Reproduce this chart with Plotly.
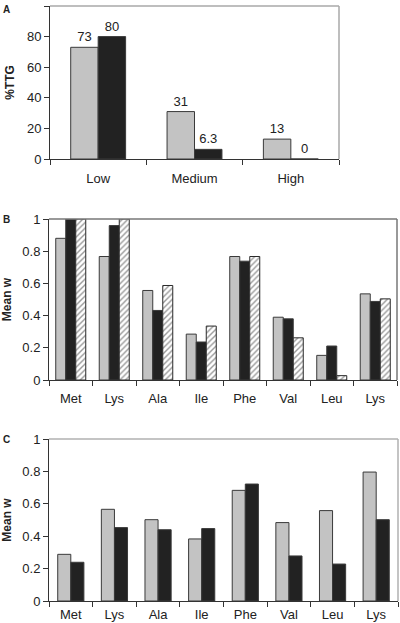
import plotly.graph_objects as go

# ---------------- data ----------------
a_categories = ["Low", "Medium", "High"]
a_gray = [73, 31, 13]
a_black = [80, 6.3, 0]
a_gray_text = ["73", "31", "13"]
a_black_text = ["80", "6.3", "0"]

aa_ids = ["Met", "Lys1", "Ala", "Ile", "Phe", "Val", "Leu", "Lys2"]
aa_labels = ["Met", "Lys", "Ala", "Ile", "Phe", "Val", "Leu", "Lys"]

b_gray = [0.88, 0.767, 0.556, 0.285, 0.767, 0.39, 0.153, 0.535]
b_black = [1.0, 0.959, 0.432, 0.236, 0.738, 0.38, 0.211, 0.488]
b_hatched = [1.0, 1.0, 0.587, 0.335, 0.767, 0.262, 0.027, 0.504]

c_gray = [0.288, 0.566, 0.502, 0.383, 0.683, 0.484, 0.558, 0.796]
c_black = [0.239, 0.453, 0.44, 0.447, 0.722, 0.278, 0.228, 0.502]

pct_ticks = [0, 20, 40, 60, 80, 100]
w_ticks = [0, 0.2, 0.4, 0.6, 0.8, 1]

# ---------------- style ----------------
W, H = 400, 623
GRAY = "#c3c3c3"
BLACK = "#222222"
EDGE = "#3a3a3a"
FONT = "Liberation Sans, Arial, sans-serif"
TXT = "#222222"

def px_x(p):
    return p / W

def px_y(p):
    return 1 - p / H

fig = go.Figure()
line = dict(color=EDGE, width=1)

# Panel A
fig.add_trace(go.Bar(x=a_categories, y=a_gray, marker=dict(color=GRAY, line=line),
                     width=0.285, offset=-0.285, text=a_gray_text, textposition="outside",
                     cliponaxis=False, textfont=dict(size=13, color=TXT, family=FONT),
                     xaxis="x", yaxis="y", showlegend=False))
fig.add_trace(go.Bar(x=a_categories, y=a_black, marker=dict(color=BLACK, line=line),
                     width=0.285, offset=0.0, text=a_black_text, textposition="outside",
                     cliponaxis=False, textfont=dict(size=13, color=TXT, family=FONT),
                     xaxis="x", yaxis="y", showlegend=False))

# Panel B
fig.add_trace(go.Bar(x=aa_ids, y=b_gray, marker=dict(color=GRAY, line=line),
                     width=0.23, offset=-0.345, xaxis="x2", yaxis="y2", showlegend=False))
fig.add_trace(go.Bar(x=aa_ids, y=b_black, marker=dict(color=BLACK, line=line),
                     width=0.23, offset=-0.115, xaxis="x2", yaxis="y2", showlegend=False))
fig.add_trace(go.Bar(x=aa_ids, y=b_hatched,
                     marker=dict(color="white", line=dict(color="#2a2a2a", width=1),
                                 pattern=dict(shape="/", fgcolor="#333333", bgcolor="white",
                                              size=4, solidity=0.35, fillmode="overlay")),
                     width=0.23, offset=0.115, xaxis="x2", yaxis="y2", showlegend=False))

# Panel C
fig.add_trace(go.Bar(x=aa_ids, y=c_gray, marker=dict(color=GRAY, line=line),
                     width=0.3, offset=-0.3, xaxis="x3", yaxis="y3", showlegend=False))
fig.add_trace(go.Bar(x=aa_ids, y=c_black, marker=dict(color=BLACK, line=line),
                     width=0.3, offset=0.0, xaxis="x3", yaxis="y3", showlegend=False))

tickfont = dict(family=FONT, size=13, color=TXT)
titlefont = dict(family=FONT, size=12, color=TXT, weight="bold")

def xaxis_cfg(domain, anchor, n, standoff, ticktext=None, tickvals=None):
    d = dict(domain=domain, anchor=anchor, type="category", range=[-0.5, n - 0.5],
             showline=True, linecolor="#333333", linewidth=1, ticks="outside",
             ticklen=5, tickcolor="#333333", tickson="boundaries", showgrid=False,
             zeroline=False, tickfont=tickfont, fixedrange=True, automargin=False,
             ticklabelstandoff=standoff)
    if ticktext is not None:
        d.update(tickmode="array", tickvals=tickvals, ticktext=ticktext)
    return d

def yaxis_cfg(domain, anchor, rng, tickvals, title):
    return dict(domain=domain, anchor=anchor, range=rng, tickmode="array", tickvals=tickvals,
                showline=True, linecolor="#333333", linewidth=1, ticks="outside",
                ticklen=5, tickcolor="#333333", showgrid=False, zeroline=False,
                tickfont=tickfont, title=dict(text=title, font=titlefont, standoff=9),
                fixedrange=True, automargin=False)

A_x = [px_x(50), px_x(339)]
A_y = [px_y(159), px_y(6)]
B_x = [px_x(49), px_x(397)]
B_y = [px_y(380), px_y(219)]
C_x = [px_x(49), px_x(398)]
C_y = [px_y(601), px_y(439)]

fig.update_layout(
    width=W, height=H, margin=dict(l=0, r=0, t=0, b=0, autoexpand=False),
    paper_bgcolor="white", plot_bgcolor="white", barmode="overlay",
    font=dict(family=FONT, color=TXT),
    xaxis=xaxis_cfg(A_x, "y", 3, 7),
    yaxis=yaxis_cfg(A_y, "x", [0, 100], pct_ticks, "%TTG"),
    xaxis2=xaxis_cfg(B_x, "y2", 8, 6, aa_labels, aa_ids),
    yaxis2=yaxis_cfg(B_y, "x2", [0, 1], w_ticks, "Mean w"),
    xaxis3=xaxis_cfg(C_x, "y3", 8, 1, aa_labels, aa_ids),
    yaxis3=yaxis_cfg(C_y, "x3", [0, 1], w_ticks, "Mean w"),
)

# top/right frame lines (lighter than axes)
for xr, yr, col in [("x domain", "y domain", "#a8a8a8"),
                    ("x2 domain", "y2 domain", "#777777"),
                    ("x3 domain", "y3 domain", "#b0b0b0")]:
    fig.add_shape(type="line", xref=xr, yref=yr, x0=0, x1=1, y0=1, y1=1,
                  line=dict(color=col, width=1.5))
    fig.add_shape(type="line", xref=xr, yref=yr, x0=1, x1=1, y0=0, y1=1,
                  line=dict(color=col, width=1.5))

# panel letters
for letter, ypix in [("A", 2), ("B", 212), ("C", 432)]:
    fig.add_annotation(text="<b>%s</b>" % letter, xref="paper", yref="paper",
                       x=px_x(1), y=px_y(ypix), xanchor="left", yanchor="top",
                       showarrow=False, font=dict(family=FONT, size=10, color=TXT))

fig.write_html(
    "out.html",
    config={"displayModeBar": False},
    post_script="document.body.style.margin='0';document.body.style.overflow='hidden';",
)
